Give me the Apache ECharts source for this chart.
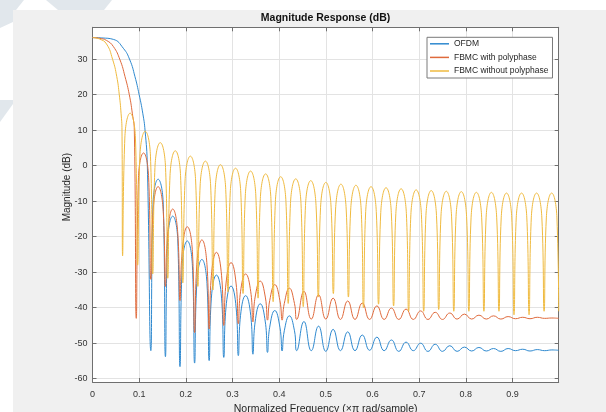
<!DOCTYPE html>
<html><head><meta charset="utf-8">
<script src="https://cdn.jsdelivr.net/npm/echarts@6/dist/echarts.min.js"></script>
<style>html,body{margin:0;padding:0;background:#fff;}#c{width:606px;height:412px;}</style>
</head><body><div id="c"></div>
<script>
const titleText = 'Magnitude Response (dB)';
const xName = 'Normalized Frequency (\u00d7\u03c0 rad/sample)';
const yName = 'Magnitude (dB)';
const seriesNames = ['OFDM', 'FBMC with polyphase', 'FBMC without polyphase'];
const xTicks = [0, 0.1, 0.2, 0.3, 0.4, 0.5, 0.6, 0.7, 0.8, 0.9];
const yTicks = [-60, -50, -40, -30, -20, -10, 0, 10, 20, 30];

const ofdm = [[0,36.1],[0.02,36],[0.0446,35.6],[0.066,33.1],[0.08,29.8],[0.091,25.1],[0.1,20],[0.1077,14.8],[0.1126,10],[0.1175,0],[0.125,-52.1],
[0.1297,-10.8],[0.1406,-3.8],[0.1516,-10.8],[0.1563,-53.8],
[0.1610,-21.2],[0.1719,-14.2],[0.1828,-21.2],[0.1875,-56.6],
[0.1922,-28.2],[0.2031,-21.2],[0.2141,-28.2],[0.2188,-55.6],
[0.2235,-33.2],[0.2344,-26.4],[0.2453,-33.2],[0.25,-54.9],
[0.2547,-37.3],[0.2656,-30.8],[0.2766,-37.3],[0.2813,-54],
[0.2860,-40],[0.2969,-33.9],[0.3078,-40],[0.3125,-53.5],
[0.3172,-42.2],[0.3281,-36.6],[0.3391,-42.2],[0.3438,-53.1],
[0.3485,-44],[0.3594,-38.9],[0.3703,-44],[0.375,-52.6],
[0.3797,-45.5],[0.3906,-40.8],[0.4016,-45.5],[0.4063,-52.2],
[0.4110,-46.5],[0.4219,-42.3],[0.4328,-46.5],[0.4375,-52.1],
[0.4531,-43.9],[0.4688,-52.1],[0.4844,-45.2],[0.5,-52.3],[0.5156,-46.1],[0.5313,-52.1],[0.5469,-46.8],[0.5625,-52.1],
[0.5781,-47.7],[0.5938,-52],[0.6094,-48.3],[0.625,-52.1],[0.6406,-49.1],[0.6563,-52.3],[0.6719,-49.7],[0.6875,-52.1],
[0.7031,-50],[0.7188,-52.3],[0.7344,-50.3],[0.75,-52.3],[0.7656,-50.7],[0.7813,-52.3],[0.7969,-51.1],[0.8125,-52.2],
[0.8281,-51.2],[0.8438,-52.2],[0.8594,-51.5],[0.875,-52.3],[0.8906,-51.5],[0.9063,-52.1],[0.9219,-51.7],[0.9375,-52.2],
[0.9531,-51.8],[0.9688,-52.1],[0.9844,-51.9],[0.999,-52]];

const fbmcPoly = [[0,36.1],[0.015,35.9],[0.03,35.3],[0.0446,33.6],[0.059,29.8],[0.0697,25.1],[0.0789,20],[0.0853,14.8],[0.0896,10],[0.0938,-43],
[0.0985,-3.4],[0.1094,3.6],[0.1203,-3.4],[0.1250,-32],
[0.1297,-12.9],[0.1406,-5.9],[0.1516,-12.9],[0.1563,-34],
[0.1610,-19.2],[0.1719,-12.2],[0.1828,-19.2],[0.1875,-38],
[0.1922,-24.2],[0.2031,-17.2],[0.2141,-24.2],[0.2188,-47],
[0.2235,-27.9],[0.2344,-20.9],[0.2453,-27.9],[0.25,-46],
[0.2547,-31],[0.2656,-24.4],[0.2766,-31],[0.2813,-45],
[0.2860,-33.3],[0.2969,-27.3],[0.3078,-33.3],[0.3125,-44.5],
[0.3172,-35.5],[0.3281,-30.5],[0.3391,-35.5],[0.3438,-44],
[0.3485,-37],[0.3594,-32.5],[0.3703,-37],[0.375,-43.5],
[0.3797,-38],[0.3906,-33.5],[0.4016,-38],[0.4063,-43.5],
[0.4110,-38.8],[0.4219,-34.5],[0.4328,-38.8],[0.4375,-43.3],
[0.4531,-35.4],[0.4688,-43.2],[0.4844,-36.4],[0.5,-43.2],[0.5156,-37.3],[0.5313,-43.3],[0.5469,-38.1],[0.5625,-43.3],
[0.5781,-38.7],[0.5938,-43.3],[0.6094,-39.5],[0.625,-43.3],[0.6406,-40.1],[0.6563,-43.3],[0.6719,-40.4],[0.6875,-43.3],
[0.7031,-40.9],[0.7188,-43.3],[0.7344,-41.3],[0.75,-43.3],[0.7656,-41.5],[0.7813,-43.2],[0.7969,-41.8],[0.8125,-43.2],
[0.8281,-42.1],[0.8438,-43.2],[0.8594,-42.3],[0.875,-43.2],[0.8906,-42.5],[0.9063,-43.1],[0.9219,-42.7],[0.9375,-43.1],
[0.9531,-42.7],[0.9688,-43],[0.9844,-42.9],[0.999,-43]];

const fbmcNoPoly = [[0,36.1],[0.015,35.7],[0.03,34.3],[0.043,30],[0.052,25.1],[0.0574,20],[0.0612,14.8],[0.0632,10],[0.0645,-25.4],
[0.0693,7.8],[0.0806,14.8],[0.0920,7.8],[0.0968,-28],
[0.1016,2.7],[0.1129,9.7],[0.1242,2.7],[0.1290,-30.5],
[0.1338,-0.5],[0.1452,6.5],[0.1565,-0.5],[0.1613,-31.7],
[0.1661,-2.8],[0.1774,4.2],[0.1887,-2.8],[0.1935,-33],
[0.1983,-4.3],[0.2097,2.7],[0.2210,-4.3],[0.2258,-34],
[0.2306,-5.7],[0.2419,1.3],[0.2532,-5.7],[0.2581,-35],
[0.2629,-6.7],[0.2742,0.3],[0.2855,-6.7],[0.2903,-35.5],
[0.2951,-7.7],[0.3065,-0.7],[0.3178,-7.7],[0.3226,-36],
[0.3274,-8.5],[0.3387,-1.5],[0.3500,-8.5],[0.3548,-37.3],
[0.3596,-9.3],[0.3710,-2.3],[0.3823,-9.3],[0.3871,-38.3],
[0.3919,-10.1],[0.4032,-3.1],[0.4145,-10.1],[0.4194,-38.8],
[0.4242,-10.7],[0.4355,-3.7],[0.4468,-10.7],[0.4516,-39.7],
[0.4564,-11.2],[0.4677,-4.2],[0.4790,-11.2],[0.4839,-37],
[0.4887,-11.7],[0.5000,-4.7],[0.5113,-11.7],[0.5161,-36],
[0.5209,-12.2],[0.5323,-5.2],[0.5436,-12.2],[0.5484,-37],
[0.5532,-12.5],[0.5645,-5.5],[0.5758,-12.5],[0.5806,-40],
[0.5854,-12.9],[0.5968,-5.9],[0.6081,-12.9],[0.6129,-39],
[0.6177,-13.2],[0.6290,-6.2],[0.6403,-13.2],[0.6452,-39.5],
[0.6500,-13.5],[0.6613,-6.5],[0.6726,-13.5],[0.6774,-41],
[0.6822,-13.8],[0.6935,-6.8],[0.7048,-13.8],[0.7097,-41],
[0.7145,-14],[0.7258,-7],[0.7371,-14],[0.7419,-40.5],
[0.7467,-14.2],[0.7581,-7.2],[0.7694,-14.2],[0.7742,-41],
[0.7790,-14.3],[0.7903,-7.3],[0.8016,-14.3],[0.8065,-41],
[0.8113,-14.5],[0.8226,-7.5],[0.8339,-14.5],[0.8387,-41],
[0.8435,-14.5],[0.8548,-7.5],[0.8661,-14.5],[0.8710,-41],
[0.8758,-14.7],[0.8871,-7.7],[0.8984,-14.7],[0.9032,-42],
[0.9080,-14.7],[0.9194,-7.7],[0.9307,-14.7],[0.9355,-42],
[0.9403,-14.7],[0.9516,-7.7],[0.9629,-14.7],[0.9677,-41],
[0.9725,-14.7],[0.9839,-7.7],[0.9952,-14.7],[0.999,-41]];

const colors = ['#2f89cf', '#df6a3c', '#efba3f'];
const seriesData = [ofdm, fbmcPoly, fbmcNoPoly];

const chart = echarts.init(document.getElementById('c'), null, {renderer: 'canvas'});
const axisColor = '#6f6f6f';
const labelColor = '#333333';
const gridColor = '#e3e3e3';
const font = 'Liberation Sans, Arial, Helvetica, sans-serif';

function xAxisCfg(pos, main) {
  return {
    type: 'value', position: pos, min: 0, max: 0.999,
    name: main ? xName : titleText, nameLocation: 'middle', nameMoveOverlap: false,
    nameGap: main ? 22 : 4,
    nameTextStyle: main ? {fontSize: 10.5, color: '#262626', fontFamily: font}
                        : {fontSize: 10.5, fontWeight: 'bold', color: '#111', fontFamily: font},
    axisLine: {show: true, onZero: false, lineStyle: {color: axisColor, width: 1}},
    axisTick: {show: true, inside: true, length: 4, customValues: xTicks, lineStyle: {color: axisColor}},
    axisLabel: {show: main, customValues: xTicks, fontSize: 9, color: labelColor, margin: 8, fontFamily: font,
      formatter: v => (Math.abs(v) < 1e-9 ? '0' : (Math.round(v * 10) / 10).toFixed(1))},
    splitLine: {show: main, lineStyle: {color: gridColor, width: 1}}
  };
}
function yAxisCfg(pos, main) {
  return {
    type: 'value', position: pos, min: -60.93, max: 39,
    name: main ? yName : '', nameLocation: 'middle', nameGap: 20, nameMoveOverlap: false,
    nameTextStyle: {fontSize: 10, color: '#262626', fontFamily: font, padding: [0, 0, 0, 35]},
    axisLine: {show: true, onZero: false, lineStyle: {color: axisColor, width: 1}},
    axisTick: {show: true, inside: true, length: 4, customValues: yTicks, lineStyle: {color: axisColor}},
    axisLabel: {show: main, customValues: yTicks, fontSize: 9, color: labelColor, margin: 5, fontFamily: font},
    splitLine: {show: main, lineStyle: {color: gridColor, width: 1}}
  };
}

const wm = '#e1e7ec';
chart.setOption({
  animation: false,
  backgroundColor: '#ffffff',
  graphic: [
    {type: 'polygon', z: -101, shape: {points: [[0,0],[24,0],[16,10],[0,10]]}, style: {fill: wm}},
    {type: 'polygon', z: -101, shape: {points: [[46,0],[112,0],[104,10],[58,10]]}, style: {fill: wm}},
    {type: 'polygon', z: -101, shape: {points: [[0,10],[13,10],[13,22],[0,28]]}, style: {fill: wm}},
    {type: 'polygon', z: -101, shape: {points: [[0,100],[13,100],[13,104],[0,122]]}, style: {fill: wm}},
    {type: 'rect', z: -100, shape: {x: 13, y: 10, width: 593, height: 402}, style: {fill: '#f0f0f0'}}
  ],
  grid: {left: 92.5, top: 27.3, width: 466.2, height: 354.7, show: true, backgroundColor: '#ffffff', borderWidth: 0,
    outerBoundsMode: 'none', containLabel: false},
  legend: {
    data: seriesNames, orient: 'vertical', left: 427, top: 37.3,
    padding: [1.5, 4, 2, 3], itemGap: 3.6, itemWidth: 19, itemHeight: 1.5, icon: 'rect',
    backgroundColor: '#ffffff', borderColor: '#7a7a7a', borderWidth: 1, borderRadius: 0,
    textStyle: {fontSize: 8.5, color: '#262626', fontFamily: font, lineHeight: 10}
  },
  xAxis: [xAxisCfg('bottom', true), xAxisCfg('top', false)],
  yAxis: [yAxisCfg('left', true), yAxisCfg('right', false)],
  series: seriesData.map((d, i) => ({
    name: seriesNames[i], type: 'line', data: d, xAxisIndex: 0, yAxisIndex: 0,
    showSymbol: false, symbol: 'none', smooth: 0.5, clip: true,
    lineStyle: {color: colors[i], width: 1}, itemStyle: {color: colors[i]}
  }))
});
</script></body></html>
